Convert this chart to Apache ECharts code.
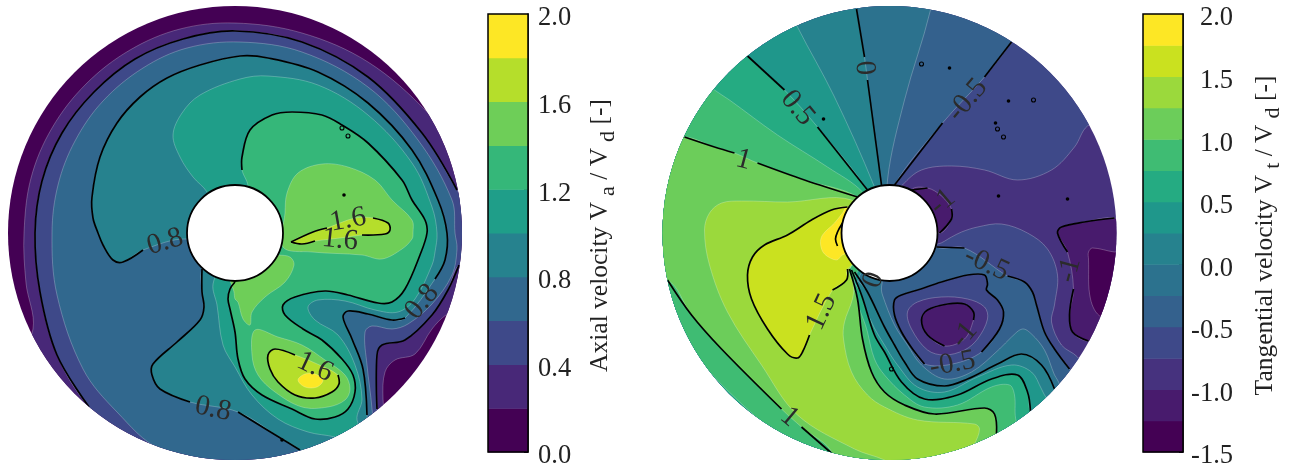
<!DOCTYPE html>
<html><head><meta charset="utf-8">
<style>html,body{margin:0;padding:0;background:#fff}#c{width:1294px;height:467px}</style>
<script src="https://cdn.jsdelivr.net/npm/echarts@6/dist/echarts.min.js"></script>
</head><body><div id="c"></div>
<script>
// Disc coordinates: 227 units = outer radius, y grows downward
const discRadius = 227, holeRadius = 48;

// ---- colour scales
const axialEdges = [0,0.2,0.4,0.6,0.8,1,1.2,1.4,1.6,1.8,2];
const axialColors = ['#440154','#482878','#3e4989','#31688e','#26828e','#1f9e89','#35b779','#6ece58','#b5de2b','#fde725'];
const tanEdges = [-1.5,-1.25,-1,-0.75,-0.5,-0.25,0,0.25,0.5,0.75,1,1.25,1.5,1.75,2];
const tanColors = ['#440154','#481b6d','#46327e','#3e4989','#34618d','#2c728e','#26828e','#1f978b','#25ab82','#3fbc73','#6ccd5a','#9bd93c','#cae11f','#fde725'];

// ---- axial velocity contours (superlevel outlines)
const axial02 = [[-211,0],[-204,-55],[-183,-105],[-149,-149],[-105,-183],[-55,-204],[0,-210],[67,-200],[133,-171],[193,-120],[240,-60],[265,0],[250,60],[211,82],[197,96],[180,121],[160,127],[150,139],[148,166],[152,235],[0,270],[-160,240],[-225,150],[-202,96],[-209,50]];
const axial04 = [[-200,0],[-193,-52],[-173,-100],[-141,-141],[-100,-174],[-52,-194],[0,-202],[67,-191],[133,-156],[187,-100],[222,-43],[250,0],[245,30],[224,32],[213,57],[197,82],[170,107],[147,112],[142,122],[142,176],[142,240],[0,265],[-70,250],[-146,174],[-178,122],[-195,59]];
const axial06 = [[-183,0],[-177,-48],[-160,-92],[-132,-132],[-92,-165],[-48,-185],[5,-191],[67,-181],[133,-146],[183,-93],[217,-33],[220,0],[222,16],[217,42],[197,71],[173,91],[157,96],[137,93],[130,99],[132,132],[137,176],[140,240],[60,260],[-75,216],[-118,179],[-152,136],[-178,62]];
const axial08 = [[-142,-15],[-143,-36],[-135,-76],[-118,-110],[-95,-136],[-68,-155],[-35,-168],[5,-177],[33,-175],[83,-161],[133,-130],[177,-83],[203,-33],[212,0],[210,27],[200,46],[170,85],[157,87],[133,81],[113,78],[108,84],[117,106],[128,136],[132,182],[135,235],[90,245],[65,217],[47,206],[3,179],[-45,169],[-75,156],[-83,142],[-82,131],[-58,109],[-35,87],[-31,74],[-33,59],[-33,36],[-20,20],[-48,6],[-92,17],[-112,29],[-122,27],[-132,12],[-137,0]];
const axial10 = [[-28,-41],[-42,-56],[-55,-76],[-62,-98],[-53,-120],[-35,-138],[5,-154],[33,-157],[83,-148],[133,-118],[177,-70],[197,-26],[202,0],[200,19],[197,32],[180,66],[163,79],[140,77],[110,68],[83,67],[73,74],[80,87],[103,102],[120,132],[127,166],[122,187],[135,215],[100,204],[73,199],[43,186],[17,162],[0,134],[-12,112],[-18,72],[-22,51],[-10,20],[-20,-20]];
const axial12 = [[7,-63],[7,-76],[15,-103],[37,-118],[57,-121],[87,-118],[107,-108],[133,-90],[167,-53],[177,-33],[190,-13],[192,0],[185,22],[170,56],[157,69],[143,70],[113,62],[90,58],[60,64],[48,72],[50,82],[68,96],[87,107],[107,126],[118,142],[120,159],[113,176],[100,184],[80,186],[57,176],[27,162],[10,146],[3,126],[0,99],[-5,76],[-7,66],[-5,56],[0,49],[0,0],[13,-45]];
const axial14a = [[50,-20],[52,-40],[63,-60],[87,-69],[113,-66],[140,-53],[157,-33],[177,-13],[178,0],[177,6],[167,16],[147,26],[127,22],[77,19],[48,14]];
const axial14b = [[43,22],[55,24],[59,32],[50,49],[30,64],[17,79],[15,92],[8,86],[3,69],[0,66],[-1,59],[-5,40],[20,20]];
const axial14c = [[20,97],[43,104],[67,112],[90,127],[110,142],[115,156],[110,167],[93,174],[67,174],[40,159],[23,142],[17,122]];
const axial16a = [[56,9],[78,-1],[92,-5],[120,-15],[138,-15],[153,-10],[155,-3],[150,1],[127,2],[105,5],[80,8],[67,11]];
const axial16b = [[33,122],[40,116],[60,122],[80,130],[103,142],[104,151],[97,159],[80,165],[60,162],[43,149],[35,136]];
const axial18 = [[63,147],[70,141],[80,141],[88,147],[82,154],[70,154]];
const axialLabels = [['0.8',-70,9,17],['0.8',187,69,50],['0.8',-22,176,-12],['1.6',113,-13,10],['1.6',105,7,-6],['1.6',80,134,-25]];
const axialSolidDots = [[109,-38],[47,207]];
const axialRings = [[107,-105],[113,-97]];

// ---- tangential velocity contours
const tanM075 = [[198,-107],[185,-86],[162,-63],[128,-53],[95,-63],[62,-67],[32,-63],[13,-48],[0,-30],[20,10],[48,11],[62,4],[72,-1],[88,-6],[112,-9],[138,0],[158,16],[168,42],[165,72],[162,89],[172,112],[188,124],[215,160],[0,280],[-280,0],[0,-280],[240,-130]];
const tanM05 = [[122,-191],[95,-156],[53,-110],[5,-48],[0,-20],[47,14],[75,15],[118,43],[135,49],[143,59],[147,72],[155,99],[165,116],[180,136],[220,210],[0,280],[-280,0],[0,-280],[150,-235]];
const tanM025 = [[41,-223],[15,-133],[-2,-53],[0,0],[-8,54],[-7,62],[5,92],[18,112],[32,132],[55,146],[82,139],[110,116],[122,104],[133,96],[142,101],[155,117],[165,142],[168,147],[200,220],[0,280],[-280,0],[50,-280]];
const tan00 = [[-33,-224],[-25,-176],[-22,-153],[-8,-48],[0,0],[-35,39],[-22,59],[-5,94],[5,112],[15,129],[28,146],[55,153],[78,146],[108,131],[132,121],[152,132],[165,156],[200,220],[0,280],[-280,0],[-40,-280]];
const tan025 = [[-92,-206],[-55,-136],[-15,-46],[0,0],[-32,49],[-18,89],[-5,112],[8,132],[28,154],[55,159],[88,144],[122,132],[142,139],[152,156],[155,162],[190,220],[0,280],[-280,0],[-115,-255]];
const tan05 = [[-142,-177],[-105,-143],[-72,-106],[-22,-43],[0,0],[-38,37],[-28,62],[-15,102],[-5,119],[12,149],[35,166],[68,162],[102,146],[128,142],[138,159],[141,179],[170,230],[0,280],[-280,0],[-175,-220]];
const tan075 = [[-175,-143],[-160,-133],[-112,-98],[-62,-66],[-27,-41],[0,0],[-35,46],[-22,99],[-15,126],[-5,142],[15,162],[35,174],[68,172],[102,154],[120,152],[125,162],[127,189],[150,240],[0,280],[-280,0],[-215,-175]];
const tan10 = [[-32,-36],[-85,-53],[-132,-70],[-155,-80],[-175,-86],[-205,-96],[-270,-90],[-275,40],[-222,47],[-198,82],[-168,116],[-108,176],[-88,194],[-57,221],[-65,260],[120,260],[107,201],[105,181],[95,175],[45,181],[15,172],[-5,159],[-18,139],[-27,106],[-32,66],[-40,36],[0,0]];
const tan125 = [[-38,-33],[-102,-31],[-148,-32],[-168,-30],[-180,-20],[-185,-3],[-180,32],[-162,79],[-128,132],[-92,182],[-35,216],[-5,227],[60,260],[85,211],[90,196],[85,191],[28,187],[-5,174],[-22,162],[-38,139],[-46,106],[-45,89],[-37,66],[-36,51],[-40,36],[-10,0]];
const tan15 = [[-42,-26],[-58,-23],[-78,-13],[-102,2],[-125,12],[-137,24],[-142,42],[-138,66],[-122,96],[-102,121],[-92,125],[-87,119],[-80,102],[-57,57],[-43,47],[-42,36],[0,0]];
const tan175 = [[-42,-26],[-47,-20],[-55,-10],[-67,2],[-69,11],[-65,21],[-53,27],[-47,22],[0,0]];
const tanRightM1 = [[225,-15],[195,-11],[172,-6],[168,0],[178,19],[184,56],[180,82],[183,99],[199,108],[260,100],[270,0]];
const tanRightM125 = [[199,19],[203,15],[225,19],[250,20],[250,90],[212,84],[201,66],[199,26]];
const tanHubM1 = [[22,-43],[38,-45],[52,-37],[62,-24],[62,-14],[50,0],[20,-15]];
const tanVortexM05 = [[5,67],[12,62],[28,57],[52,49],[78,42],[95,42],[98,51],[97,57],[108,67],[114,79],[110,96],[92,119],[63,131],[35,131],[23,116],[12,99],[5,82]];
const tanVortexM075 = [[18,79],[28,69],[52,64],[78,66],[95,74],[98,86],[88,106],[75,117],[55,122],[38,117],[22,96]];
const tanVortexM1 = [[32,87],[38,77],[58,71],[75,71],[84,79],[84,87],[75,106],[55,113],[38,102]];
const tanHubArc = [[-47,-10],[-52,-1],[-54,6],[-52,13]];
const tanLabels = [['0',-25,-165,-85],['0.5',-92,-125,-50],['1',-146,-73,-15],['-0.5',78,-133,50],['-1',53,-31,40],['-0.5',97,31,-25],['-1',180,37,75],['-1',75,102,50],['-0.5',63,131,10],['0',-16,47,70],['1.5',-68,79,65],['1',-100,184,-40]];
const tanSolidDots = [[60,-165],[119,-132],[106,-110],[109,-37],[178,-34],[-66,-114]];
const tanRings = [[32,-169],[144,-133],[108,-104],[114,-96],[2,136]];

// ---- assemble drawing lists
const fill = (pts,c) => ({k:'fill',pts,c});
const line = pts => ({k:'line',pts});
const labels = a => a.map(([t,x,y,r]) => ({k:'text',t,x,y,r}));
const dots = a => a.map(p => ({k:'dot',p}));
const rings = a => a.map(p => ({k:'ring',p}));
const AC = axialColors, TC = tanColors;

const axialItems = [
 {k:'disc',c:AC[0]},
 fill(axial02,AC[1]),fill(axial04,AC[2]),fill(axial06,AC[3]),fill(axial08,AC[4]),fill(axial10,AC[5]),fill(axial12,AC[6]),
 fill(axial14a,AC[7]),fill(axial14b,AC[7]),fill(axial14c,AC[7]),fill(axial16a,AC[8]),fill(axial16b,AC[8]),fill(axial18,AC[9]),
 line(axial04.slice(23).concat(axial04.slice(0,11))),line(axial04.slice(13,20)),
 line(axial08.slice(40).concat(axial08.slice(0,16))),line(axial08.slice(16,24)),line(axial08.slice(26,29)),line(axial08.slice(29,38)),
 line(axial12.slice(0,38)),
 line(axial16a.slice(0,3)),line(axial16a.slice(4,9)),line(axial16a.slice(10).concat(axial16a.slice(0,1))),
 line(axial16b.slice(4).concat(axial16b.slice(0,3))),
 ...dots(axialSolidDots),...rings(axialRings),
 {k:'hole'},...labels(axialLabels)
];
const tanItems = [
 {k:'disc',c:TC[2]},
 fill(tanRightM1,TC[1]),fill(tanRightM125,TC[0]),fill(tanHubM1,TC[1]),
 fill(tanM075,TC[3]),fill(tanM05,TC[4]),
 fill(tanVortexM05,TC[3]),fill(tanVortexM075,TC[2]),fill(tanVortexM1,TC[1]),
 fill(tanM025,TC[5]),fill(tan00,TC[6]),fill(tan025,TC[7]),fill(tan05,TC[8]),fill(tan075,TC[9]),fill(tan10,TC[10]),fill(tan125,TC[11]),fill(tan15,TC[12]),fill(tan175,TC[13]),
 line(tanRightM1.slice(0,5)),line(tanRightM1.slice(5,9)),line(tanHubM1.slice(0,2)),line(tanHubM1.slice(3,6)),
 line(tanM05.slice(0,2)),line(tanM05.slice(2,4)),line(tanM05.slice(5,7)),line(tanM05.slice(7,14)),
 line(tanVortexM05.slice(13).concat(tanVortexM05.slice(0,12))),
 line(tanVortexM1.slice(7).concat(tanVortexM1.slice(0,6))),
 line(tan00.slice(0,2)),line(tan00.slice(2,4)),line(tan00.slice(5,17)),
 line(tan05.slice(0,2)),line(tan05.slice(2,4)),line(tan05.slice(5,16)),
 line(tan10.slice(0,3)),line(tan10.slice(3,6)),line(tan10.slice(8,12)),line(tan10.slice(12,14)),line(tan10.slice(16,26)),
 line(tan15.slice(0,13)),line(tan15.slice(13,16)),line(tanHubArc),
 ...dots(tanSolidDots),...rings(tanRings),
 {k:'hole'},...labels(tanLabels)
];

const serif = '"Liberation Serif","Times New Roman",serif';
function discSeries(items, idx){
  return {type:'custom',coordinateSystem:'cartesian2d',xAxisIndex:idx,yAxisIndex:idx,clip:false,silent:true,animation:false,
    data:items.map((_,i)=>i),
    renderItem(params,api){
      const it = items[params.dataIndex];
      const c = api.coord([0,0]);
      const px = api.coord([discRadius,0])[0]-c[0];
      const clip = {type:'circle',shape:{cx:c[0],cy:c[1],r:px}};
      const map = a => a.map(p=>api.coord(p));
      switch(it.k){
        case 'disc': return {type:'circle',shape:{cx:c[0],cy:c[1],r:px},style:{fill:it.c}};
        case 'fill': return {type:'polygon',shape:{points:map(it.pts),smooth:0.35},clipPath:clip,
          style:{fill:it.c,stroke:'rgba(255,255,255,0.35)',lineWidth:0.7}};
        case 'line': return {type:'polyline',shape:{points:map(it.pts),smooth:0.35},clipPath:clip,
          style:{fill:'none',stroke:'#000',lineWidth:1.7}};
        case 'dot': { const q=api.coord(it.p); return {type:'circle',shape:{cx:q[0],cy:q[1],r:1.8},style:{fill:'#000'}}; }
        case 'ring': { const q=api.coord(it.p); return {type:'circle',shape:{cx:q[0],cy:q[1],r:2},style:{fill:'none',stroke:'#000',lineWidth:1.1}}; }
        case 'hole': return {type:'circle',shape:{cx:c[0],cy:c[1],r:px*holeRadius/discRadius},style:{fill:'#fff',stroke:'#000',lineWidth:1.8}};
        case 'text': { const q=api.coord([it.x,it.y]); return {type:'text',x:q[0],y:q[1],rotation:it.r*Math.PI/180,
          style:{text:it.t,fill:'#2b2b2b',font:'29px '+serif,align:'center',verticalAlign:'middle'}}; }
      }
    }};
}
function barSeries(edges,colors,idx){
  return {type:'custom',coordinateSystem:'cartesian2d',xAxisIndex:idx,yAxisIndex:idx,clip:false,silent:true,animation:false,
    data:colors.map((_,i)=>i),
    renderItem(params,api){
      const i=params.dataIndex, a=api.coord([0,edges[i+1]]), b=api.coord([1,edges[i]]);
      return {type:'rect',shape:{x:a[0],y:a[1],width:b[0]-a[0],height:b[1]-a[1]+0.5},style:{fill:colors[i]}};
    }};
}
const hiddenDisc = inv => ({type:'value',min:-discRadius,max:discRadius,show:false,inverse:inv});
const nameRich = {
  t:{fontFamily:serif,fontSize:25.5,color:'#222'},
  s:{fontFamily:serif,fontSize:22,color:'#222',padding:[16,0,0,6]}
};
function barY(idx,min,max,interval,name,gap,extra){
  return {type:'value',gridIndex:idx,min,max,interval,position:'right',splitLine:{show:false},
    axisLine:{show:true,onZero:false,lineStyle:{color:'#000',width:1.5}},
    axisTick:{show:true,inside:true,length:4,lineStyle:{color:'#000',width:1}},
    axisLabel:Object.assign({fontFamily:serif,fontSize:26.5,color:'#222',hideOverlap:false,showMinLabel:true,showMaxLabel:true,
      formatter:v=>'{v|'+v.toFixed(1)+'}',rich:{v:{fontFamily:serif,fontSize:26.5,color:'#222',padding:[9,0,0,0]}}},extra),
    name,nameLocation:'middle',nameRotate:90,nameGap:gap,nameTextStyle:{rich:nameRich,fontFamily:serif,fontSize:25.5,padding:[0,5,0,0]}};
}
const barGridBorder = {show:true,backgroundColor:'transparent',borderColor:'#000',borderWidth:1.5,outerBoundsMode:'none',containLabel:false};
const chart = echarts.init(document.getElementById('c'),null,{renderer:'canvas'});
chart.setOption({
  animation:false,backgroundColor:'#fff',
  grid:[
    {left:8,top:6,width:454,height:454,outerBoundsMode:'none'},
    {left:662.5,top:6,width:454,height:454,outerBoundsMode:'none'},
    Object.assign({left:488,top:14,width:40,height:438,z:3},barGridBorder),
    Object.assign({left:1143,top:14,width:40,height:438,z:3},barGridBorder)
  ],
  xAxis:[
    Object.assign(hiddenDisc(false),{gridIndex:0}),Object.assign(hiddenDisc(false),{gridIndex:1}),
    {type:'value',gridIndex:2,min:0,max:1,show:false},{type:'value',gridIndex:3,min:0,max:1,show:false}
  ],
  yAxis:[
    Object.assign(hiddenDisc(true),{gridIndex:0}),Object.assign(hiddenDisc(true),{gridIndex:1}),
    barY(2,0,2,0.4,'{t|Axial velocity V}{s|a}{t| / V}{s|d}{t| [-]}',53,{margin:10}),
    barY(3,-1.5,2,0.5,'{t|Tangential velocity V}{s|t}{t| / V}{s|d}{t| [-]}',63,{margin:50,align:'right'})
  ],
  series:[discSeries(axialItems,0),discSeries(tanItems,1),barSeries(axialEdges,axialColors,2),barSeries(tanEdges,tanColors,3)]
});
</script></body></html>
